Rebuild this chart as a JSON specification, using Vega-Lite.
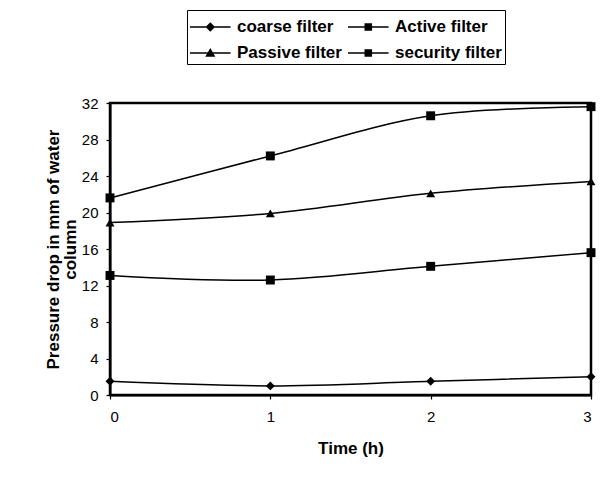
{
  "$schema": "https://vega.github.io/schema/vega-lite/v6.json",
  "width": 481,
  "height": 292,
  "autosize": {"type": "none"},
  "padding": {"left": 110, "top": 103, "right": 18, "bottom": 89},
  "background": "white",
  "config": {
    "font": "Liberation Sans",
    "view": {"stroke": "black", "strokeWidth": 2.5},
    "axis": {"grid": false, "domainColor": "black", "domainWidth": 2, "tickColor": "black", "tickWidth": 1.2, "labelColor": "black", "titleColor": "black", "labelFont": "Liberation Sans", "titleFont": "Liberation Sans", "labelFontSize": 15, "titleFontSize": 17, "titleFontWeight": "bold", "tickSize": 4}
  },
  "data": {"values": [
    {"t": 0, "p": 1.5, "s": "coarse filter"},
    {"t": 1, "p": 1.0, "s": "coarse filter"},
    {"t": 2, "p": 1.5, "s": "coarse filter"},
    {"t": 3, "p": 2.0, "s": "coarse filter"},
    {"t": 0, "p": 13.1, "s": "Active filter"},
    {"t": 1, "p": 12.6, "s": "Active filter"},
    {"t": 2, "p": 14.1, "s": "Active filter"},
    {"t": 3, "p": 15.6, "s": "Active filter"},
    {"t": 0, "p": 18.9, "s": "Passive filter"},
    {"t": 1, "p": 19.9, "s": "Passive filter"},
    {"t": 2, "p": 22.1, "s": "Passive filter"},
    {"t": 3, "p": 23.4, "s": "Passive filter"},
    {"t": 0, "p": 21.6, "s": "security filter"},
    {"t": 1, "p": 26.2, "s": "security filter"},
    {"t": 2, "p": 30.6, "s": "security filter"},
    {"t": 3, "p": 31.6, "s": "security filter"}
  ]},
  "encoding": {
    "x": {"field": "t", "type": "quantitative", "scale": {"domain": [0, 3], "nice": false}, "axis": {"values": [0, 1, 2, 3], "title": "Time (h)", "labelPadding": 10, "titlePadding": 16}},
    "y": {"field": "p", "type": "quantitative", "scale": {"domain": [0, 32], "nice": false}, "axis": {"values": [0, 4, 8, 12, 16, 20, 24, 28, 32], "title": ["Pressure drop in mm of water", "column"], "labelPadding": 8, "titlePadding": 2, "titleLineHeight": 17}}
  },
  "layer": [
    {
      "mark": {"type": "line", "interpolate": "catmull-rom", "color": "black", "strokeWidth": 1.5},
      "encoding": {"detail": {"field": "s"}}
    },
    {
      "mark": {"type": "point", "filled": true, "opacity": 1, "color": "black", "size": 80},
      "encoding": {
        "shape": {
          "field": "s", "type": "nominal",
          "scale": {
            "domain": ["coarse filter", "Active filter", "Passive filter", "security filter"],
            "range": ["diamond", "square", "triangle-up", "square"]
          },
          "legend": null
        }
      }
    },
    {
      "mark": {"type": "point", "filled": true, "opacity": 0, "color": "black", "size": 64},
      "encoding": {
        "shape": {
          "field": "s", "type": "nominal",
          "scale": {
            "domain": ["coarse filter", "Passive filter", "Active filter", "security filter"],
            "range": [
              "M-1,-0.05H1.9V0.05H-1ZM0.45,-0.34L0.79,0L0.45,0.34L0.11,0Z",
              "M-1,-0.05H1.9V0.05H-1ZM0.45,-0.36L0.81,0.26H0.09Z",
              "M-1,-0.05H1.9V0.05H-1ZM0.18,-0.27H0.72V0.27H0.18Z",
              "M-1,-0.05H1.9V0.05H-1ZM0.18,-0.27H0.72V0.27H0.18Z"
            ]
          },
          "legend": {
            "title": null,
            "orient": "none",
            "legendX": 77,
            "legendY": -93,
            "columns": 2,
            "columnPadding": 6,
            "rowPadding": 4,
            "padding": 3,
            "strokeColor": "black",
            "labelFont": "Liberation Sans",
            "labelFontSize": 17,
            "labelFontWeight": "bold",
            "labelColor": "black",
            "labelOffset": 19,
            "symbolSize": 784,
            "symbolOpacity": 1,
            "symbolFillColor": "black",
            "symbolStrokeColor": "black",
            "symbolStrokeWidth": 0
          }
        }
      }
    }
  ],
  "resolve": {"scale": {"shape": "independent"}, "legend": {"shape": "independent"}}
}
